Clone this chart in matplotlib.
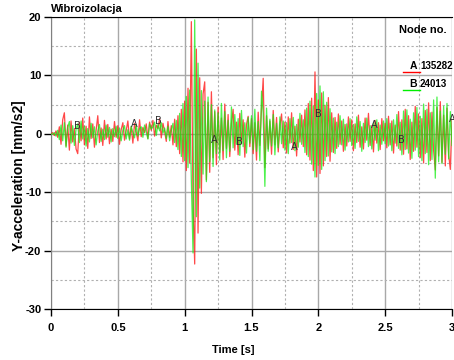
import numpy as np
import matplotlib
matplotlib.use("Agg")
import matplotlib.pyplot as plt
from matplotlib.ticker import MultipleLocator

plt.rcParams['font.family'] = ['Liberation Sans', 'DejaVu Sans']
plt.rcParams['axes.unicode_minus'] = False

# ---- data ----------------------------------------------------------------
# node A (red), sampled every 0.0125 s from 0 to 3 s
accel_a = [
    0.0, 0.2, -0.3, 0.5, -0.6, 1.2, -1.8, 2.4, 3.6, -2.1, 1.5, -2.8, 2.2, -1.4, 0.9, -2.6, -3.4, 2.0, -1.2, 2.7,
    -1.9, 1.3, -2.5, 2.9, -0.8, 1.7, -2.3, 0.6, 3.1, -1.5, 1.0, -2.0, 2.3, -0.9, 1.6, -1.7, 0.8, -1.3, 2.1, -0.6,
    1.4, -1.8, 0.7, 1.9, -1.1, 0.5, 2.2, -0.9, 1.2, -1.6, 1.8, 0.3, -1.2, 2.4, -0.5, 1.1, 0.2, 1.7, -0.8, 2.0,
    0.6, 2.3, -0.4, 1.5, 0.9, 2.6, -0.7, 1.8, 0.4, -1.3, 2.1, -0.6, 1.4, -1.9, 2.5, -2.2, 3.1, -3.4, 4.2, -4.8,
    5.6, -6.3, 7.8, -5.0, 19.2, -12.0, -22.3, 14.5, -17.0, 9.6, -10.2, 6.8, 8.9, -7.9, 5.4, -6.6, 7.2, -4.1, 3.8, -5.3,
    4.6, -3.2, 2.7, -4.4, 5.1, -2.5, 3.3, -3.9, 1.8, 4.2, -2.8, 2.0, -3.6, 3.5, -1.7, 2.4, -4.0, 1.6, 3.0, -2.2,
    2.6, -3.4, 1.9, -4.5, 3.7, -2.0, 4.3, 9.5, -5.8, 3.1, -2.6, 2.2, -3.5, 4.0, -1.9, 2.8, -3.1, 1.5, 3.4, -2.4,
    2.0, -3.3, 2.9, -1.6, 3.6, -2.7, 1.3, -3.8, 2.5, -1.4, 3.2, -2.2, 4.1, -3.6, 5.2, -4.5, 6.1, -6.3, 10.6, -7.4,
    5.8, -6.8, 7.0, -5.5, 4.9, -3.9, 6.2, -4.7, 3.6, -3.2, 2.8, -2.5, 3.4, -1.8, 2.2, -3.0, 1.6, -2.1, 2.9, -1.3,
    2.4, -2.9, 1.7, -1.5, 3.2, -2.3, 1.2, -2.6, 2.7, -1.1, 3.5, -2.0, 1.4, -3.1, 2.3, -1.6, 1.9, -2.7, 2.6, -1.2,
    1.8, -2.4, 3.0, -1.9, 2.2, -3.3, 1.5, -2.1, 3.8, -2.8, 2.4, -3.5, 4.2, -2.6, 3.1, -4.4, 2.0, -3.0, 4.7, -2.3,
    3.4, -4.1, 2.6, -5.0, 4.0, -3.2, 5.3, -4.6, 3.7, -2.9, -6.2, 4.5, -3.8, 5.5, -4.9, 3.2, -5.5, 4.4, -3.6, -6.1, 2.5,
]
# node B (green)
accel_b = [
    0.0, -0.1, 0.2, -0.4, 0.6, -1.0, 1.5, -1.2, 1.9, -2.3, 1.1, 2.1, -1.6, 1.4, -2.0, 0.8, 1.7, -1.5, 2.2, -0.9,
    1.3, -2.1, 0.9, -1.4, 1.8, -0.7, 1.2, -1.9, 0.5, 1.6, -1.3, 0.8, -1.0, 1.5, -0.6, 1.1, -1.4, 0.9, -0.5, 1.3,
    -0.8, 1.0, -1.2, 0.6, 1.4, -0.9, 0.7, -1.1, 1.3, 0.2, -0.7, 1.6, -0.4, 0.9, 1.2, -0.6, 1.5, 0.3, -0.9, 1.7,
    0.8, 1.2, 2.0, -0.3, 1.6, 0.5, 1.9, 0.1, 1.0, -0.8, 1.3, -1.2, 0.6, 1.8, -1.5, 2.3, -2.7, 3.5, -3.9, 5.2,
    -4.6, 6.4, -5.8, 7.5, -8.1, -20.4, 19.5, -14.2, 12.1, -9.3, 7.4, -6.9, 5.6, -8.2, 6.3, -4.8, 5.0, -5.6, 4.1, -3.4,
    3.6, -4.5, 5.2, -2.9, 3.8, -4.1, 2.3, -3.0, 4.6, -2.4, 3.3, -1.8, 2.6, -3.7, 4.0, -2.2, 1.9, -3.3, 2.8, -1.6,
    3.1, -2.7, 4.2, -3.0, 2.1, -4.6, 7.3, 3.5, -9.0, 4.4, -3.0, 2.5, -2.1, 3.3, -3.6, 1.8, -2.4, 2.9, -1.7, 2.2,
    -2.8, 1.9, -3.4, 2.6, -1.5, 2.8, -2.9, 1.6, -2.3, 3.5, -1.8, 2.4, -3.2, 4.4, -3.9, 5.6, -5.2, 4.8, -7.4, 6.9,
    -5.4, 8.2, -6.1, 7.2, -4.6, 5.4, -3.8, 4.3, -3.1, 2.7, -3.4, 2.0, -2.2, 3.1, -1.9, 2.5, -2.8, 1.7, -1.4, 2.6,
    -2.0, 1.6, -2.5, 2.9, -1.3, 2.1, -3.0, 1.8, -1.5, 2.7, -2.2, 1.4, -2.6, 1.9, -1.1, 2.4, -2.9, 1.5, -1.8, 2.2,
    -1.7, 2.6, -2.1, 1.8, -2.9, 2.4, -1.6, 3.3, -2.5, 2.0, -3.6, 3.9, -2.7, 4.1, -3.3, 2.5, -4.2, 3.6, -2.8, 4.5,
    -3.9, 3.0, -4.6, 5.1, -3.4, 4.2, -5.3, 3.6, -4.4, 5.8, -7.6, 6.3, -4.8, 3.9, -5.1, 4.7, -3.5, 5.2, -4.3, 3.8, -2.0,
]
time_a = np.linspace(0, 3, len(accel_a))
time_b = np.linspace(0, 3, len(accel_b))

# curve tags along the lines
tag_a_t = [0.62, 1.22, 1.82, 2.42, 3.0]
tag_a_y = [1.6, -1.1, -2.3, 1.5, 2.5]
tag_b_t = [0.2, 0.8, 1.41, 2.0, 2.62]
tag_b_y = [1.3, 2.2, -1.4, 3.4, -1.1]

node_ids = ['135282', '24013']

# ---- figure ---------------------------------------------------------------
W, H = 454, 360
fig = plt.figure(figsize=(W / 100, H / 100), dpi=100)
ax = fig.add_axes([51 / W, 1 - 309 / H, 401 / W, 292 / H])

ax.plot(time_a, accel_a, color='#ff1a1a', lw=0.9, alpha=0.8, zorder=3)
ax.plot(time_b, accel_b, color='#11ee11', lw=0.9, alpha=0.75, zorder=4)

for t, y in zip(tag_a_t, tag_a_y):
    ax.text(t, y, 'A', fontsize=7, color='#303030', ha='center', va='center',
            family=['DejaVu Sans'], zorder=5, clip_on=False)
for t, y in zip(tag_b_t, tag_b_y):
    ax.text(t, y, 'B', fontsize=7, color='#303030', ha='center', va='center',
            family=['DejaVu Sans'], zorder=5, clip_on=False)

ax.set_xlim(0, 3)
ax.set_ylim(-30, 20)
ax.xaxis.set_major_locator(MultipleLocator(0.5))
ax.xaxis.set_minor_locator(MultipleLocator(0.25))
ax.yaxis.set_major_locator(MultipleLocator(10))
ax.yaxis.set_minor_locator(MultipleLocator(5))
ax.set_xticks([0, 0.5, 1, 1.5, 2, 2.5, 3])
ax.set_xticklabels(['0', '0.5', '1', '1.5', '2', '2.5', '3'])
ax.grid(which='major', color='#a8a8a8', lw=1.0, ls='-')
ax.grid(which='minor', color='#b0b0b0', lw=0.8, ls=(0, (2, 2)))
ax.set_axisbelow(True)
ax.tick_params(which='major', direction='out', length=5, width=1, color='black',
               labelsize=8, pad=2)
ax.tick_params(axis='x', pad=5)
ax.tick_params(which='minor', length=0)
for lab in ax.get_xticklabels() + ax.get_yticklabels():
    lab.set_fontweight('bold')

ax.spines['right'].set_visible(False)
ax.spines['left'].set_color('#808080')
ax.spines['top'].set_color('black')
ax.spines['bottom'].set_color('black')

# titles and axis labels
fig.text(51 / W, 1 - 9 / H, 'Wibroizolacja', fontsize=8, fontweight='bold',
         ha='left', va='center')
fig.text(233 / W, 1 - 350 / H, 'Time [s]', fontsize=8, fontweight='bold',
         ha='center', va='center')
fig.text(19 / W, 1 - 176 / H, 'Y-acceleration [mm/s2]', fontsize=10, fontweight='bold',
         ha='center', va='center', rotation=90)

# node legend
fig.text(423 / W, 1 - 30 / H, 'Node no.', fontsize=8, fontweight='bold',
         ha='center', va='center')
fig.text(413 / W, 1 - 66 / H, 'A', fontsize=7.5, fontweight='bold', ha='center', va='center')
fig.text(420 / W, 1 - 66 / H, node_ids[0], fontsize=7, fontweight='bold', ha='left', va='center')
fig.text(413 / W, 1 - 84 / H, 'B', fontsize=7.5, fontweight='bold', ha='center', va='center')
fig.text(420 / W, 1 - 84 / H, node_ids[1], fontsize=7, fontweight='bold', ha='left', va='center')
fig.add_artist(plt.Line2D([403 / W, 420 / W], [1 - 72 / H, 1 - 72 / H], color='#ff0000', lw=1))
fig.add_artist(plt.Line2D([403 / W, 420 / W], [1 - 90 / H, 1 - 90 / H], color='#00ee00', lw=1))

fig.savefig('out.png', dpi=100)
